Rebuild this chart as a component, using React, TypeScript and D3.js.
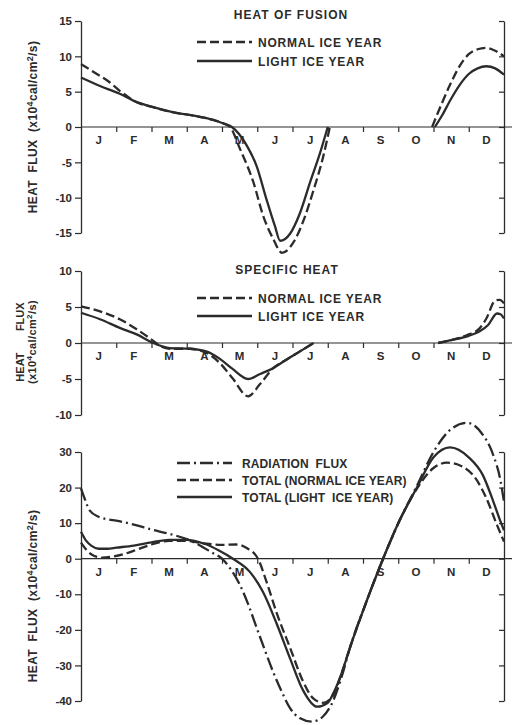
import React, { useEffect, useRef } from "react";
import * as d3 from "d3";

const MONTHS = ["J", "F", "M", "A", "M", "J", "J", "A", "S", "O", "N", "D"];

// [month position (0 = start of Jan), heat flux]; null breaks the curve
const fusionNormal = [
  [0, 8.9], [0.45, 7.5], [0.82, 6.3], [1.1, 5.1], [1.3, 4.4], [1.5, 3.7], [2.05, 2.8], [2.6, 2.1],
  [3.2, 1.6], [3.75, 1.0], [4.05, 0.5], [4.23, 0], [4.51, -3.1], [4.89, -7.8], [5.17, -12.6],
  [5.45, -15.8], [5.7, -17.8], [6.03, -16.3], [6.3, -13.4], [6.58, -9.2], [6.87, -4.2], [7.06, 0],
  [8, null],
  [9.96, 0], [10.25, 3.5], [10.5, 6.3], [10.75, 8.7], [11.0, 10.3], [11.25, 11.0], [11.5, 11.2],
  [11.75, 10.8], [12, 10.0],
];
const fusionLight = [
  [0, 7.0], [0.54, 5.8], [1.1, 4.7], [1.5, 3.7], [2.05, 2.8], [2.6, 2.1], [3.2, 1.6], [3.75, 1.0],
  [4.04, 0.5], [4.28, 0], [4.7, -2.6], [4.98, -5.5], [5.26, -10.2], [5.5, -14], [5.65, -16.1],
  [5.93, -15.1], [6.21, -12.2], [6.5, -7.8], [6.78, -3.7], [7.0, 0],
  [8, null],
  [10.04, 0], [10.25, 1.7], [10.5, 4.0], [10.75, 6.0], [11.0, 7.5], [11.25, 8.3], [11.5, 8.6],
  [11.75, 8.3], [12, 7.4],
];

const specificNormal = [
  [0, 5.1], [0.54, 4.4], [1.1, 3.3], [1.58, 1.9], [2.05, 0.3], [2.24, -0.4], [2.52, -0.8],
  [3.09, -0.8], [3.57, -1.4], [3.94, -2.8], [4.3, -4.9], [4.74, -7.4], [5.08, -5.7], [5.45, -3.5],
  [5.8, -2.4], [6.2, -1.2], [6.6, 0],
  [8, null],
  [10.13, 0], [10.5, 0.4], [11.0, 1.2], [11.3, 2.0], [11.5, 3.4], [11.75, 5.9], [11.88, 6.0], [12, 5.5],
];
const specificLight = [
  [0, 4.2], [0.54, 3.3], [1.1, 2.1], [1.58, 1.2], [2.05, 0], [2.52, -0.7], [3.09, -0.8],
  [3.57, -1.2], [3.94, -2.2], [4.3, -3.6], [4.74, -5.0], [5.08, -4.3], [5.45, -3.5], [5.8, -2.4],
  [6.2, -1.2], [6.6, 0],
  [8, null],
  [10.13, 0], [10.5, 0.4], [11.0, 1.0], [11.3, 1.6], [11.55, 2.5], [11.8, 4.1], [11.9, 4.0], [12, 3.4],
];

const radiationFlux = [
  [0, 19.8], [0.1, 17], [0.25, 13.5], [0.5, 11.8], [0.75, 11.1], [1.0, 10.7], [1.5, 9.6], [2.0, 8.2],
  [2.5, 7.0], [3.0, 5.5], [3.4, 3.6], [3.7, 1.8], [4.0, 0], [4.25, -3], [4.51, -7.4], [4.75, -13],
  [4.99, -19.6], [5.22, -25.8], [5.45, -31.8], [5.7, -37.5], [5.93, -42], [6.2, -44.8], [6.55, -45.8],
  [6.85, -44.5], [7.15, -40], [7.4, -33], [7.63, -25], [8.1, -12], [8.57, 0], [9.05, 11], [9.53, 20.5],
  [10.0, 30], [10.45, 36], [10.95, 38.2], [11.35, 35.5], [11.7, 29], [11.9, 22], [12, 16],
];
const totalNormal = [
  [0, 4.5], [0.15, 2.5], [0.3, 1.2], [0.6, 0.3], [0.9, 0.6], [1.25, 1.4], [1.6, 2.6], [2.0, 4.0],
  [2.5, 5.0], [3.0, 5.0], [3.5, 4.3], [4.0, 3.9], [4.4, 4.0], [4.7, 3.0], [5.02, 0], [5.28, -7],
  [5.56, -15.5], [5.93, -25], [6.3, -34.5], [6.58, -39.2], [6.87, -40.5], [7.15, -38.5], [7.4, -32],
  [7.63, -25], [8.1, -12], [8.57, 0], [9.05, 11], [9.53, 19.7], [10.0, 25.5], [10.38, 27], [10.8, 26],
  [11.2, 22.5], [11.5, 17], [11.8, 9.5], [12, 4.8],
];
const totalLight = [
  [0, 7.6], [0.15, 5.0], [0.3, 3.6], [0.5, 2.8], [0.75, 2.8], [1.0, 3.1], [1.5, 3.7], [2.0, 4.6],
  [2.5, 5.3], [3.0, 5.3], [3.5, 4.2], [3.9, 2.4], [4.31, 0], [4.79, -3.7], [5.16, -9.3], [5.56, -18.5],
  [5.93, -28], [6.3, -37], [6.7, -41.6], [7.0, -40.5], [7.15, -38], [7.4, -32], [7.63, -25], [8.1, -12],
  [8.57, 0], [9.05, 11], [9.53, 20], [10.0, 28.5], [10.47, 31.3], [11.0, 28.5], [11.4, 23.5],
  [11.7, 16], [11.9, 10.5], [12, 8],
];

const INK = "#2b2b2b";
const FONT = "'Liberation Sans', Arial, sans-serif";
const DASH: Record<string, string | null> = { solid: null, dashed: "9,4", dashdot: "13,4,2,4" };

const panels = [
  {
    domain: [-15, 15], ticks: [-15, -10, -5, 0, 5, 10, 15], top: 21, bottom: 233,
    title: "HEAT OF FUSION", titleX: 291, titleY: 19,
    legendX: 197, legendY: [42, 61], legendSpacing: 0.8, label: { x: 37, y: 127, twoLine: false },
    series: [
      { name: "NORMAL ICE YEAR", data: fusionNormal, style: "dashed" },
      { name: "LIGHT ICE YEAR", data: fusionLight, style: "solid" },
    ],
  },
  {
    domain: [-10, 10], ticks: [-10, -5, 0, 5, 10], top: 271, bottom: 415,
    title: "SPECIFIC HEAT", titleX: 287, titleY: 274,
    legendX: 197, legendY: [298, 316], legendSpacing: 0.8, label: { x: 32, y: 342, twoLine: true },
    series: [
      { name: "NORMAL ICE YEAR", data: specificNormal, style: "dashed" },
      { name: "LIGHT ICE YEAR", data: specificLight, style: "solid" },
    ],
  },
  {
    domain: [-40, 30], ticks: [-40, -30, -20, -10, 0, 10, 20, 30], top: 452, bottom: 701,
    title: null, titleX: 0, titleY: 0,
    legendX: 177, legendY: [463, 480, 497], legendSpacing: 0.1, label: { x: 37, y: 596, twoLine: false },
    series: [
      { name: "RADIATION  FLUX", data: radiationFlux, style: "dashdot" },
      { name: "TOTAL (NORMAL ICE YEAR)", data: totalNormal, style: "dashed" },
      { name: "TOTAL (LIGHT  ICE YEAR)", data: totalLight, style: "solid" },
    ],
  },
];

const addUnits = (t: any, size: number) => {
  t.append("tspan").text("(x10");
  t.append("tspan").attr("dy", -4).attr("font-size", size - 3).text("4");
  t.append("tspan").attr("dy", 4).text("cal/cm");
  t.append("tspan").attr("dy", -4).attr("font-size", size - 3).text("2");
  t.append("tspan").attr("dy", 4).text("/s)");
};

const App = () => {
  const svgRef = useRef<SVGSVGElement>(null);

  useEffect(() => {
    const svg = d3.select(svgRef.current);
    svg.selectAll("*").remove();
    const x = d3.scaleLinear().domain([0, 12]).range([81, 504]);

    panels.forEach((p) => {
      const y = d3.scaleLinear().domain(p.domain).range([p.bottom, p.top]);
      const g = svg.append("g").attr("font-family", FONT).attr("font-weight", "bold").attr("fill", INK);

      // left axis with labels
      const left = g.append("g").attr("transform", `translate(${x(0)},0)`)
        .call(d3.axisLeft(y).tickValues(p.ticks).tickSize(6).tickSizeOuter(0).tickPadding(3).tickFormat((d) => String(d)));
      // right axis, ticks only
      const right = g.append("g").attr("transform", `translate(${x(12)},0)`)
        .call(d3.axisLeft(y).tickValues(p.ticks).tickSize(5).tickSizeOuter(0).tickFormat(() => ""));
      [left, right].forEach((a) => {
        a.select(".domain").attr("stroke", INK).attr("stroke-width", 1.3);
        a.selectAll("line").attr("stroke", INK).attr("stroke-width", 1.2);
        a.selectAll("text").attr("font-family", FONT).attr("font-weight", "bold").attr("font-size", 11.5).attr("fill", INK);
      });

      // zero line with month ticks
      g.append("line").attr("x1", x(0)).attr("x2", x(12) + 8).attr("y1", y(0)).attr("y2", y(0))
        .attr("stroke", INK).attr("stroke-width", 1.2);
      const mt = g.append("g").attr("transform", `translate(0,${y(0)})`)
        .call(d3.axisBottom(x).tickValues(d3.range(1, 12)).tickSize(5).tickSizeOuter(0).tickFormat(() => ""));
      mt.select(".domain").remove();
      mt.selectAll("line").attr("stroke", INK).attr("stroke-width", 1.2);
      g.selectAll(null).data(MONTHS).enter().append("text")
        .attr("x", (_d, i) => x(i + 0.5)).attr("y", y(0) + 17)
        .attr("text-anchor", "middle").attr("font-size", 11.5).text((d) => d);

      // curves
      const line = d3.line<any>().defined((d) => d[1] != null)
        .x((d) => x(d[0])).y((d) => y(d[1])).curve(d3.curveMonotoneX);
      p.series.forEach((s) => {
        g.append("path").attr("d", line(s.data)).attr("fill", "none").attr("stroke", INK)
          .attr("stroke-width", 2.3).attr("stroke-dasharray", DASH[s.style]);
      });

      // title and legend
      if (p.title) {
        g.append("text").attr("x", p.titleX).attr("y", p.titleY).attr("text-anchor", "middle")
          .attr("font-size", 12).attr("letter-spacing", 1).style("white-space", "pre").text(p.title);
      }
      p.series.forEach((s, i) => {
        const ly = p.legendY[i];
        g.append("line").attr("x1", p.legendX).attr("x2", p.legendX + 55).attr("y1", ly).attr("y2", ly)
          .attr("stroke", INK).attr("stroke-width", 2.3).attr("stroke-dasharray", DASH[s.style]);
        g.append("text").attr("x", p.legendX + (p.series.length === 3 ? 65 : 61)).attr("y", ly + 4.5)
          .attr("font-size", 12).attr("letter-spacing", p.legendSpacing).style("white-space", "pre").text(s.name);
      });

      // y-axis title
      if (p.label.twoLine) {
        g.append("text").attr("transform", `translate(${p.label.x - 8},${p.label.y}) rotate(-90)`)
          .attr("text-anchor", "middle").attr("font-size", 11).style("white-space", "pre").text("HEAT       FLUX");
        const t = g.append("text").attr("transform", `translate(${p.label.x + 4},${p.label.y}) rotate(-90)`)
          .attr("text-anchor", "middle").attr("font-size", 11).attr("letter-spacing", 0.4);
        addUnits(t, 11);
      } else {
        const t = g.append("text").attr("transform", `translate(${p.label.x},${p.label.y}) rotate(-90)`)
          .attr("text-anchor", "middle").attr("font-size", 12).attr("letter-spacing", 0.4).style("white-space", "pre");
        t.append("tspan").text("HEAT  FLUX  ");
        addUnits(t, 12);
      }
    });
  }, []);

  return (
    <svg ref={svgRef} width={516} height={725}
      style={{ position: "absolute", left: 0, top: 0, background: "#fff" }} />
  );
};

export default App;
